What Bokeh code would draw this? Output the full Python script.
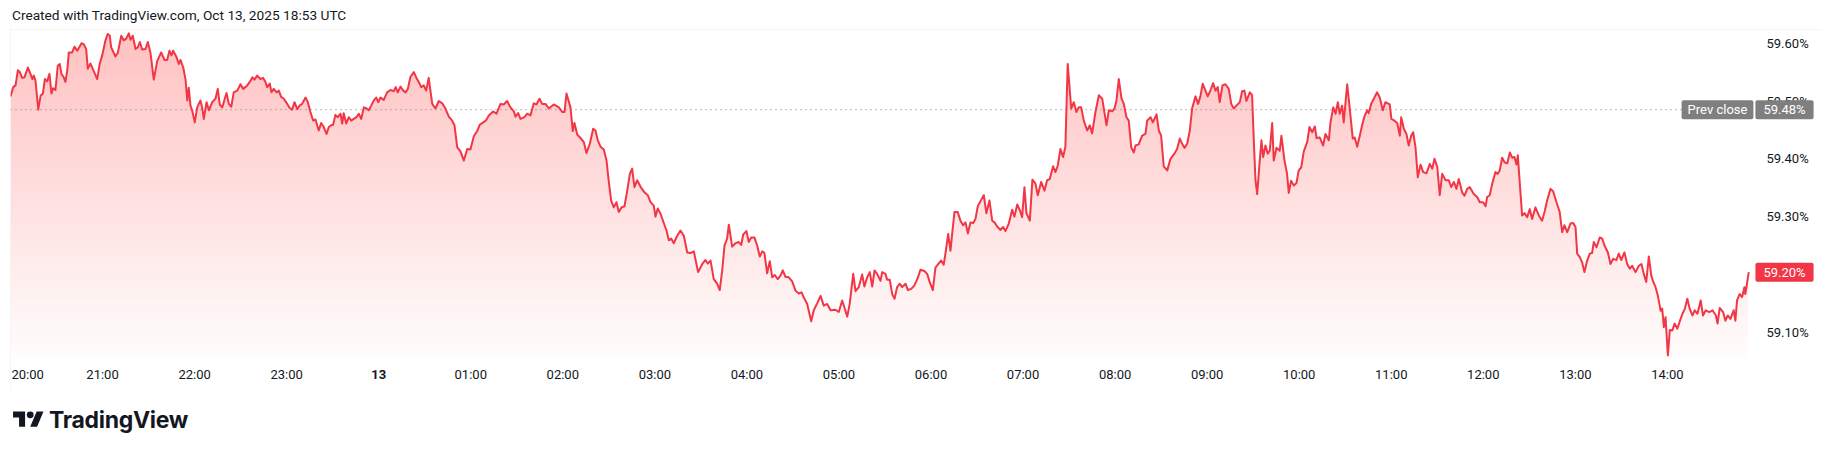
import numpy as np
from bokeh.plotting import figure
from bokeh.models import Range1d, Label, Div
from bokeh.layouts import column
from bokeh.core.properties import value
from bokeh.embed import file_html
from bokeh.resources import INLINE

# ---------------- data ----------------
# time axis: minutes after 20:00 (Oct 12), value in percent
minutes_since_20h = [
    0, 1.8, 3.3, 4.8, 6.1, 7.6, 9.1, 11.3, 13.0, 14.3, 15.2, 16.3,
    18.1, 19.6, 21.1, 22.4, 23.9, 25.4, 26.7, 27.8, 29.3, 30.8, 32.1, 33.2,
    34.7, 35.8, 37.0, 38.0, 40.2, 41.7, 43.5, 45.0, 46.3, 47.8, 49.3, 50.4,
    52.1, 53.9, 56.5, 58.2, 59.8, 61.9, 63.4, 64.7, 65.6, 68.4, 69.9, 72.2,
    73.8, 75.4, 77.1, 78.2, 79.7, 81.5, 83.0, 84.3, 85.8, 88.0, 89.5, 91.3,
    93.4, 95.6, 98.2, 100.4, 102.1, 103.6, 104.9, 106.0, 108.2, 109.7, 110.8, 112.6,
    114.1, 115.2, 116.2, 117.3, 118.4, 120.1, 121.7, 123.8, 124.9, 126.0, 127.8, 129.3,
    131.5, 133.6, 135.1, 136.4, 138.0, 139.0, 140.8, 142.3, 143.9, 145.5, 147.8, 149.9,
    151.7, 154.3, 156.0, 157.7, 159.0, 160.8, 162.9, 164.7, 166.2, 167.3, 169.0, 170.1,
    171.6, 173.4, 174.9, 176.4, 178.1, 180.4, 182.0, 183.6, 185.1, 186.9, 188.4, 190.1,
    192.3, 193.8, 195.5, 197.3, 198.8, 200.9, 202.5, 204.2, 206.0, 207.5, 209.0, 210.3,
    211.8, 213.3, 215.1, 216.2, 217.2, 218.8, 220.5, 222.1, 223.8, 225.5, 227.0, 228.6,
    230.3, 232.1, 233.5, 235.1, 236.8, 238.4, 239.7, 241.2, 243.3, 245.5, 247.7, 249.8,
    251.1, 252.4, 254.2, 256.0, 257.5, 259.0, 260.7, 262.9, 264.6, 266.1, 267.7, 269.4,
    270.9, 272.6, 274.9, 277.0, 279.2, 281.4, 283.5, 285.7, 287.9, 289.4, 291.2, 293.3,
    295.5, 297.7, 299.8, 302.0, 304.2, 305.9, 308.1, 309.8, 311.8, 314.6, 316.8, 319.4,
    321.5, 323.7, 325.9, 328.1, 329.2, 330.9, 332.4, 335.0, 336.8, 338.9, 341.1, 342.8,
    344.8, 346.6, 348.7, 350.9, 354.1, 357.4, 359.6, 361.1, 362.4, 365.0, 366.5, 367.6,
    369.4, 371.5, 373.7, 375.4, 377.6, 379.8, 381.3, 382.8, 384.6, 386.7, 388.5, 390.0,
    391.5, 393.2, 395.0, 396.5, 398.3, 400.2, 402.0, 403.7, 405.2, 406.7, 408.5, 410.6,
    413.2, 415.4, 417.2, 419.3, 420.4, 421.9, 423.7, 425.4, 427.6, 429.1, 430.7, 432.3,
    434.6, 436.7, 438.9, 441.1, 443.2, 445.4, 448.2, 450.9, 453.0, 454.5, 456.3, 458.4,
    460.6, 462.3, 463.9, 465.4, 467.1, 468.2, 470.4, 472.5, 474.7, 476.3, 477.6, 479.7,
    481.2, 482.8, 484.9, 486.7, 488.4, 490.0, 491.4, 493.2, 494.9, 496.5, 498.2, 500.1,
    501.9, 503.4, 505.1, 507.3, 509.5, 511.7, 513.8, 515.6, 517.1, 519.3, 521.9, 523.6,
    525.8, 528.0, 530.1, 532.3, 534.5, 537.7, 539.9, 542.1, 545.4, 547.0, 549.3, 550.8,
    552.9, 555.1, 556.6, 558.4, 560.1, 561.7, 563.2, 564.9, 567.1, 568.2, 570.3, 571.4,
    573.1, 574.7, 576.2, 577.9, 579.6, 581.2, 583.4, 584.9, 587.1, 589.2, 591.4, 593.1,
    595.7, 597.5, 599.0, 601.2, 602.9, 604.4, 606.6, 608.3, 609.4, 611.2, 612.7, 613.8,
    615.3, 617.4, 619.2, 620.9, 622.5, 624.0, 625.7, 627.5, 629.0, 630.5, 632.7, 634.4,
    636.1, 638.1, 639.9, 641.4, 643.1, 645.3, 647.0, 648.5, 650.7, 652.9, 654.4, 656.2,
    657.9, 659.4, 660.9, 662.2, 664.4, 666.1, 668.1, 669.6, 671.8, 674.0, 675.7, 677.4,
    679.6, 681.1, 682.6, 684.4, 686.1, 687.6, 689.1, 691.4, 693.1, 694.8, 696.3, 697.9,
    699.6, 701.8, 703.5, 705.0, 707.2, 709.4, 711.6, 714.4, 715.9, 718.1, 719.6, 720.9,
    722.4, 724.2, 725.7, 727.4, 728.9, 730.5, 732.2, 733.3, 735.4, 737.6, 739.8, 740.9,
    743.1, 744.6, 747.0, 748.5, 750.0, 751.7, 754.0, 756.1, 758.7, 760.4, 762.2, 763.7,
    765.2, 767.0, 768.7, 770.2, 772.4, 774.1, 775.6, 777.1, 778.9, 780.4, 782.2, 783.9,
    785.4, 786.9, 788.2, 790.0, 791.9, 794.1, 795.7, 797.3, 799.1, 801.3, 802.8, 804.3,
    805.6, 807.8, 809.3, 810.4, 811.5, 812.6, 814.3, 815.4, 816.5, 818.0, 819.5, 820.8,
    822.4, 823.4, 825.2, 827.3, 828.4, 830.4, 832.1, 833.2, 834.7, 836.5, 838.2, 839.7,
    841.3, 843.0, 845.2, 846.7, 848.5, 850.2, 851.3, 853.4, 855.6, 857.1, 859.3, 860.4,
    862.2, 863.7, 865.2, 866.4, 868.0, 869.0, 871.3, 873.4, 874.9, 876.2, 877.8, 879.5,
    881.0, 882.5, 884.3, 885.3, 886.9, 888.6, 890.8, 892.5, 894.5, 896.2, 899.0, 900.1,
    902.1, 903.9, 905.6, 906.5, 908.2, 909.9, 911.4, 913.0, 914.3, 915.8, 917.3, 919.1,
    920.8, 923.0, 925.1, 926.7, 928.2, 930.0, 931.6, 933.2, 935.4, 937.5, 939.1, 940.8,
    942.5, 944.0, 946.2, 947.7, 949.5, 951.2, 953.8, 956.0, 957.7, 959.9, 961.5, 962.5,
    964.2, 965.8, 967.9, 969.4, 970.7, 972.3, 973.8, 975.6, 977.3, 978.8, 980.3, 981.6,
    982.5, 983.8, 985.3, 986.9, 988.6, 990.3, 991.8, 994.0, 996.2, 998.3, 999.9, 1001.6,
    1003.8, 1005.5, 1007.7, 1009.8, 1011.4, 1012.9, 1014.7, 1016.8, 1018.6, 1020.1, 1021.2, 1022.9,
    1024.4, 1025.9, 1027.7, 1029.4, 1030.9, 1032.0, 1033.8, 1035.9, 1037.5, 1039.0, 1041.2, 1042.9,
    1044.7, 1046.8, 1048.3, 1049.9, 1052.0, 1053.8, 1055.5, 1057.0, 1059.2, 1061.4, 1063.1, 1064.6,
    1066.2, 1067.9, 1069.5, 1070.8, 1072.3, 1073.8, 1075.6, 1076.6, 1077.7, 1078.8, 1080.3, 1081.6,
    1083.2, 1084.7, 1086.5, 1088.2, 1089.8, 1091.3, 1093.0, 1094.6, 1096.3, 1097.8, 1099.6, 1101.7,
    1103.2, 1105.0, 1107.2, 1109.4, 1111.6, 1112.7, 1114.1, 1116.3, 1117.8, 1119.3, 1121.1, 1123.2,
    1124.3, 1125.4, 1127.1, 1128.7, 1130.2, 1130.8, 1131.9, 1133.0,
]

yield_pct = [
    59.508, 59.524, 59.527, 59.553, 59.550, 59.540, 59.541, 59.558, 59.547, 59.538, 59.544, 59.535,
    59.485, 59.509, 59.513, 59.538, 59.534, 59.547, 59.513, 59.522, 59.519, 59.561, 59.564, 59.547,
    59.541, 59.533, 59.553, 59.584, 59.584, 59.594, 59.587, 59.594, 59.600, 59.598, 59.590, 59.556,
    59.565, 59.554, 59.538, 59.565, 59.579, 59.605, 59.616, 59.613, 59.593, 59.577, 59.583, 59.613,
    59.605, 59.608, 59.617, 59.606, 59.613, 59.590, 59.593, 59.602, 59.589, 59.590, 59.602, 59.582,
    59.537, 59.569, 59.584, 59.571, 59.571, 59.587, 59.579, 59.587, 59.576, 59.564, 59.571, 59.558,
    59.537, 59.501, 59.523, 59.492, 59.484, 59.463, 59.489, 59.501, 59.489, 59.469, 59.498, 59.484,
    59.498, 59.504, 59.521, 59.494, 59.489, 59.498, 59.514, 59.495, 59.490, 59.515, 59.518, 59.529,
    59.521, 59.527, 59.533, 59.541, 59.537, 59.544, 59.538, 59.540, 59.533, 59.524, 59.530, 59.515,
    59.521, 59.515, 59.518, 59.507, 59.504, 59.495, 59.488, 59.485, 59.498, 59.486, 59.492, 59.495,
    59.506, 59.498, 59.481, 59.466, 59.468, 59.449, 59.462, 59.455, 59.443, 59.455, 59.458, 59.459,
    59.476, 59.472, 59.478, 59.461, 59.479, 59.461, 59.472, 59.466, 59.469, 59.472, 59.478, 59.469,
    59.489, 59.487, 59.484, 59.492, 59.501, 59.506, 59.498, 59.506, 59.502, 59.515, 59.519, 59.517,
    59.524, 59.515, 59.525, 59.518, 59.515, 59.521, 59.542, 59.550, 59.540, 59.533, 59.524, 59.527,
    59.518, 59.540, 59.495, 59.487, 59.500, 59.496, 59.487, 59.473, 59.466, 59.458, 59.420, 59.413,
    59.397, 59.417, 59.416, 59.439, 59.448, 59.459, 59.463, 59.466, 59.475, 59.482, 59.478, 59.495,
    59.494, 59.500, 59.489, 59.482, 59.473, 59.479, 59.469, 59.472, 59.478, 59.475, 59.496, 59.494,
    59.504, 59.495, 59.495, 59.487, 59.494, 59.489, 59.481, 59.481, 59.513, 59.489, 59.448, 59.462,
    59.442, 59.436, 59.429, 59.410, 59.426, 59.452, 59.449, 59.432, 59.421, 59.416, 59.397, 59.360,
    59.328, 59.316, 59.325, 59.308, 59.316, 59.318, 59.345, 59.374, 59.383, 59.351, 59.363, 59.352,
    59.342, 59.337, 59.325, 59.319, 59.300, 59.314, 59.305, 59.292, 59.276, 59.259, 59.262, 59.254,
    59.267, 59.276, 59.267, 59.238, 59.237, 59.240, 59.204, 59.218, 59.225, 59.219, 59.224, 59.192,
    59.184, 59.173, 59.207, 59.250, 59.262, 59.286, 59.248, 59.254, 59.256, 59.251, 59.269, 59.275,
    59.256, 59.264, 59.264, 59.250, 59.231, 59.240, 59.237, 59.202, 59.223, 59.195, 59.199, 59.192,
    59.198, 59.207, 59.196, 59.195, 59.188, 59.172, 59.167, 59.169, 59.160, 59.149, 59.119, 59.138,
    59.150, 59.163, 59.146, 59.149, 59.138, 59.139, 59.135, 59.155, 59.127, 59.149, 59.201, 59.171,
    59.178, 59.200, 59.179, 59.195, 59.204, 59.179, 59.207, 59.201, 59.189, 59.204, 59.201, 59.191,
    59.191, 59.166, 59.158, 59.178, 59.184, 59.178, 59.184, 59.173, 59.175, 59.181, 59.194, 59.208,
    59.206, 59.201, 59.188, 59.173, 59.212, 59.217, 59.224, 59.217, 59.236, 59.270, 59.241, 59.270,
    59.308, 59.308, 59.293, 59.285, 59.290, 59.271, 59.290, 59.289, 59.296, 59.318, 59.329, 59.337,
    59.306, 59.328, 59.293, 59.290, 59.283, 59.277, 59.282, 59.275, 59.288, 59.312, 59.300, 59.321,
    59.311, 59.299, 59.351, 59.306, 59.293, 59.364, 59.357, 59.337, 59.360, 59.345, 59.363, 59.365,
    59.387, 59.377, 59.388, 59.417, 59.403, 59.421, 59.564, 59.487, 59.498, 59.481, 59.489, 59.489,
    59.466, 59.449, 59.458, 59.444, 59.481, 59.510, 59.504, 59.458, 59.484, 59.482, 59.487, 59.501,
    59.538, 59.504, 59.495, 59.472, 59.466, 59.420, 59.411, 59.423, 59.425, 59.440, 59.443, 59.466,
    59.472, 59.463, 59.477, 59.449, 59.440, 59.387, 59.380, 59.400, 59.409, 59.417, 59.435, 59.426,
    59.419, 59.426, 59.449, 59.487, 59.508, 59.495, 59.508, 59.530, 59.518, 59.508, 59.519, 59.531,
    59.518, 59.524, 59.498, 59.527, 59.529, 59.521, 59.495, 59.487, 59.492, 59.498, 59.517, 59.518,
    59.500, 59.515, 59.510, 59.432, 59.363, 59.339, 59.397, 59.432, 59.403, 59.423, 59.409, 59.414,
    59.462, 59.397, 59.419, 59.414, 59.440, 59.397, 59.374, 59.341, 59.362, 59.354, 59.358, 59.380,
    59.385, 59.413, 59.429, 59.455, 59.446, 59.456, 59.436, 59.437, 59.423, 59.443, 59.432, 59.463,
    59.489, 59.478, 59.498, 59.478, 59.492, 59.463, 59.529, 59.475, 59.435, 59.437, 59.421, 59.440,
    59.458, 59.473, 59.484, 59.479, 59.495, 59.504, 59.515, 59.506, 59.484, 59.498, 59.494, 59.469,
    59.466, 59.462, 59.440, 59.472, 59.452, 59.443, 59.423, 59.440, 59.446, 59.420, 59.368, 59.390,
    59.377, 59.375, 59.391, 59.383, 59.400, 59.386, 59.337, 59.374, 59.363, 59.363, 59.351, 59.360,
    59.348, 59.365, 59.342, 59.336, 59.348, 59.351, 59.339, 59.334, 59.325, 59.325, 59.318, 59.334,
    59.337, 59.357, 59.377, 59.374, 59.380, 59.402, 59.394, 59.392, 59.411, 59.402, 59.403, 59.390,
    59.406, 59.357, 59.302, 59.306, 59.299, 59.313, 59.296, 59.316, 59.302, 59.293, 59.308, 59.328,
    59.348, 59.344, 59.325, 59.308, 59.273, 59.285, 59.273, 59.288, 59.289, 59.282, 59.236, 59.230,
    59.221, 59.204, 59.224, 59.236, 59.237, 59.256, 59.247, 59.264, 59.262, 59.250, 59.238, 59.218,
    59.227, 59.225, 59.236, 59.225, 59.238, 59.218, 59.210, 59.215, 59.204, 59.215, 59.218, 59.201,
    59.187, 59.231, 59.198, 59.187, 59.178, 59.163, 59.137, 59.141, 59.109, 59.126, 59.060, 59.104,
    59.103, 59.115, 59.106, 59.120, 59.132, 59.140, 59.158, 59.140, 59.129, 59.138, 59.132, 59.155,
    59.129, 59.138, 59.135, 59.138, 59.129, 59.115, 59.142, 59.135, 59.120, 59.129, 59.123, 59.138,
    59.120, 59.155, 59.166, 59.161, 59.178, 59.166, 59.184, 59.204,
]

prev_close = 59.485
prev_close_text = "59.48%"
last_value_text = "59.20%"

y_tick_values = [59.1, 59.2, 59.3, 59.4, 59.5, 59.6]
y_tick_labels = ["59.10%", "59.20%", "59.30%", "59.40%", "59.50%", "59.60%"]
x_tick_minutes = [60, 120, 180, 240, 300, 360, 420, 480, 540, 600,
                  660, 720, 780, 840, 900, 960, 1020, 1080]
x_tick_labels = ["21:00", "22:00", "23:00", "13", "01:00", "02:00", "03:00", "04:00", "05:00",
                 "06:00", "07:00", "08:00", "09:00", "10:00", "11:00", "12:00", "13:00", "14:00"]
first_tick_label = "20:00"
day_label = "13"

title_text = "Created with TradingView.com, Oct 13, 2025 18:53 UTC"

assert len(minutes_since_20h) == len(yield_pct)

# ---------------- geometry (page pixels) ----------------
RED = "#f23645"
INK = "#131722"
FONT = "Roboto"

BOX_L, BOX_T = 10, 29          # chart box top-left on the page
FIG_W, FIG_H = 1811, 361       # chart box size
DATA_R, DATA_B = 1754, 358     # right / bottom edge of the price pane
PX_PER_MIN = 92.05 / 60.0
V_TOP = 59.6237                # value at the top edge of the pane
V_PER_PX = 0.0017298


def x_at(px):
    return (px - BOX_L) / PX_PER_MIN


def y_at(py):
    return V_TOP - (py - BOX_T) * V_PER_PX


p = figure(width=FIG_W, height=FIG_H,
           x_range=Range1d(x_at(BOX_L), x_at(BOX_L + FIG_W)),
           y_range=Range1d(y_at(BOX_T + FIG_H), y_at(BOX_T)),
           output_backend="svg", toolbar_location=None,
           x_axis_location=None, y_axis_location=None,
           min_border=0, min_border_left=0, min_border_right=0,
           min_border_top=0, min_border_bottom=0,
           outline_line_color=None, background_fill_color="white",
           border_fill_color="white", margin=(0, 0, 0, BOX_L))
p.styles = {"outline": "1px solid #ebebeb", "outline-offset": "-1px"}
p.grid.visible = False

x = np.array(minutes_since_20h, dtype=float)
yv = np.array(yield_pct, dtype=float)
y_base = y_at(DATA_B)

# gradient area (stronger near the top of the pane, fading downwards)
a_bot, a_top = 0.015, 0.27
p.varea(x=x, y1=np.full_like(yv, y_base), y2=yv, fill_color=RED, fill_alpha=a_bot)
n_bands = 60
ths = np.linspace(y_base, V_TOP, n_bands + 1)[1:]
prev_op = a_bot
for t in ths:
    if t > yv.max():
        break
    op = a_bot + (a_top - a_bot) * (t - y_base) / (V_TOP - y_base)
    a = 1.0 - (1.0 - op) / (1.0 - prev_op)
    prev_op = op
    p.varea(x=x, y1=np.full_like(yv, t), y2=np.maximum(yv, t), fill_color=RED, fill_alpha=a)

# previous close dotted line
p.segment(x0=[x_at(BOX_L)], y0=[prev_close], x1=[x_at(DATA_R)], y1=[prev_close],
          line_color="#787b86", line_width=1, line_dash="1 4")

p.line(x=x, y=yv, line_color=RED, line_width=2, line_join="round")

# price scale labels
p.text(x=[x_at(1766)] * len(y_tick_values), y=y_tick_values, text=y_tick_labels,
       text_align="left", text_baseline="middle", text_font=value(FONT),
       text_font_size="13px", text_color=INK)

# time scale labels
reg = [(m, l) for m, l in zip(x_tick_minutes, x_tick_labels) if l != day_label]
y_time = y_at(374)
p.text(x=[m for m, _ in reg], y=[y_time] * len(reg), text=[l for _, l in reg],
       text_align="center", text_baseline="middle", text_font=value(FONT),
       text_font_size="13px", text_color=INK)
day_minute = [m for m, l in zip(x_tick_minutes, x_tick_labels) if l == day_label][0]
p.text(x=[day_minute], y=[y_time], text=[day_label], text_align="center",
       text_baseline="middle", text_font=value(FONT), text_font_size="13px",
       text_font_style="bold", text_color=INK)
p.text(x=[x_at(11)], y=[y_time], text=[first_tick_label], text_align="left",
       text_baseline="middle", text_font=value(FONT), text_font_size="13px", text_color=INK)

# price tags
p.add_layout(Label(x=x_at(1717), y=prev_close, text="Prev close", text_align="center",
                   text_baseline="middle", text_font=FONT, text_font_size="13px",
                   text_color="white", background_fill_color="#7f7f7f",
                   padding=dict(left=6, right=6, top=2, bottom=2), border_radius=2))
p.add_layout(Label(x=x_at(1784), y=prev_close, text=prev_close_text, text_align="center",
                   text_baseline="middle", text_font=FONT, text_font_size="13px",
                   text_color="white", background_fill_color="#7f7f7f",
                   padding=dict(left=8, right=8, top=2, bottom=2), border_radius=2))
p.add_layout(Label(x=x_at(1784), y=yield_pct[-1], text=last_value_text, text_align="center",
                   text_baseline="middle", text_font=FONT, text_font_size="13px",
                   text_color="white", background_fill_color=RED,
                   padding=dict(left=8, right=8, top=2, bottom=2), border_radius=2))

title_div = Div(text=('<div style="font-family:Roboto;font-size:13.7px;line-height:14px;'
                      'color:%s;padding-top:8px;padding-left:12px;white-space:nowrap;">%s</div>'
                      % (INK, title_text)),
                width=FIG_W, height=BOX_T, margin=(0, 0, 0, 0))

logo_svg = ('<svg width="31" height="24" viewBox="0 0 36 28" xmlns="http://www.w3.org/2000/svg">'
            '<path fill="%s" d="M14 22H7V11H0V4h14v18zM28 22h-8l7.5-18h8L28 22z"/>'
            '<circle fill="%s" cx="20" cy="8" r="4"/></svg>' % (INK, INK))
logo_div = Div(text=('<div style="display:flex;align-items:center;padding-top:18px;padding-left:13px;">'
                     + logo_svg +
                     '<span style="font-family:Inter;font-weight:700;font-size:23px;line-height:24px;'
                     'letter-spacing:-0.3px;color:%s;margin-left:5px;">TradingView</span></div>' % INK),
               width=300, height=60, margin=(0, 0, 0, 0))

layout = column(title_div, p, logo_div)

open("out.html", "w").write(file_html(layout, INLINE))
